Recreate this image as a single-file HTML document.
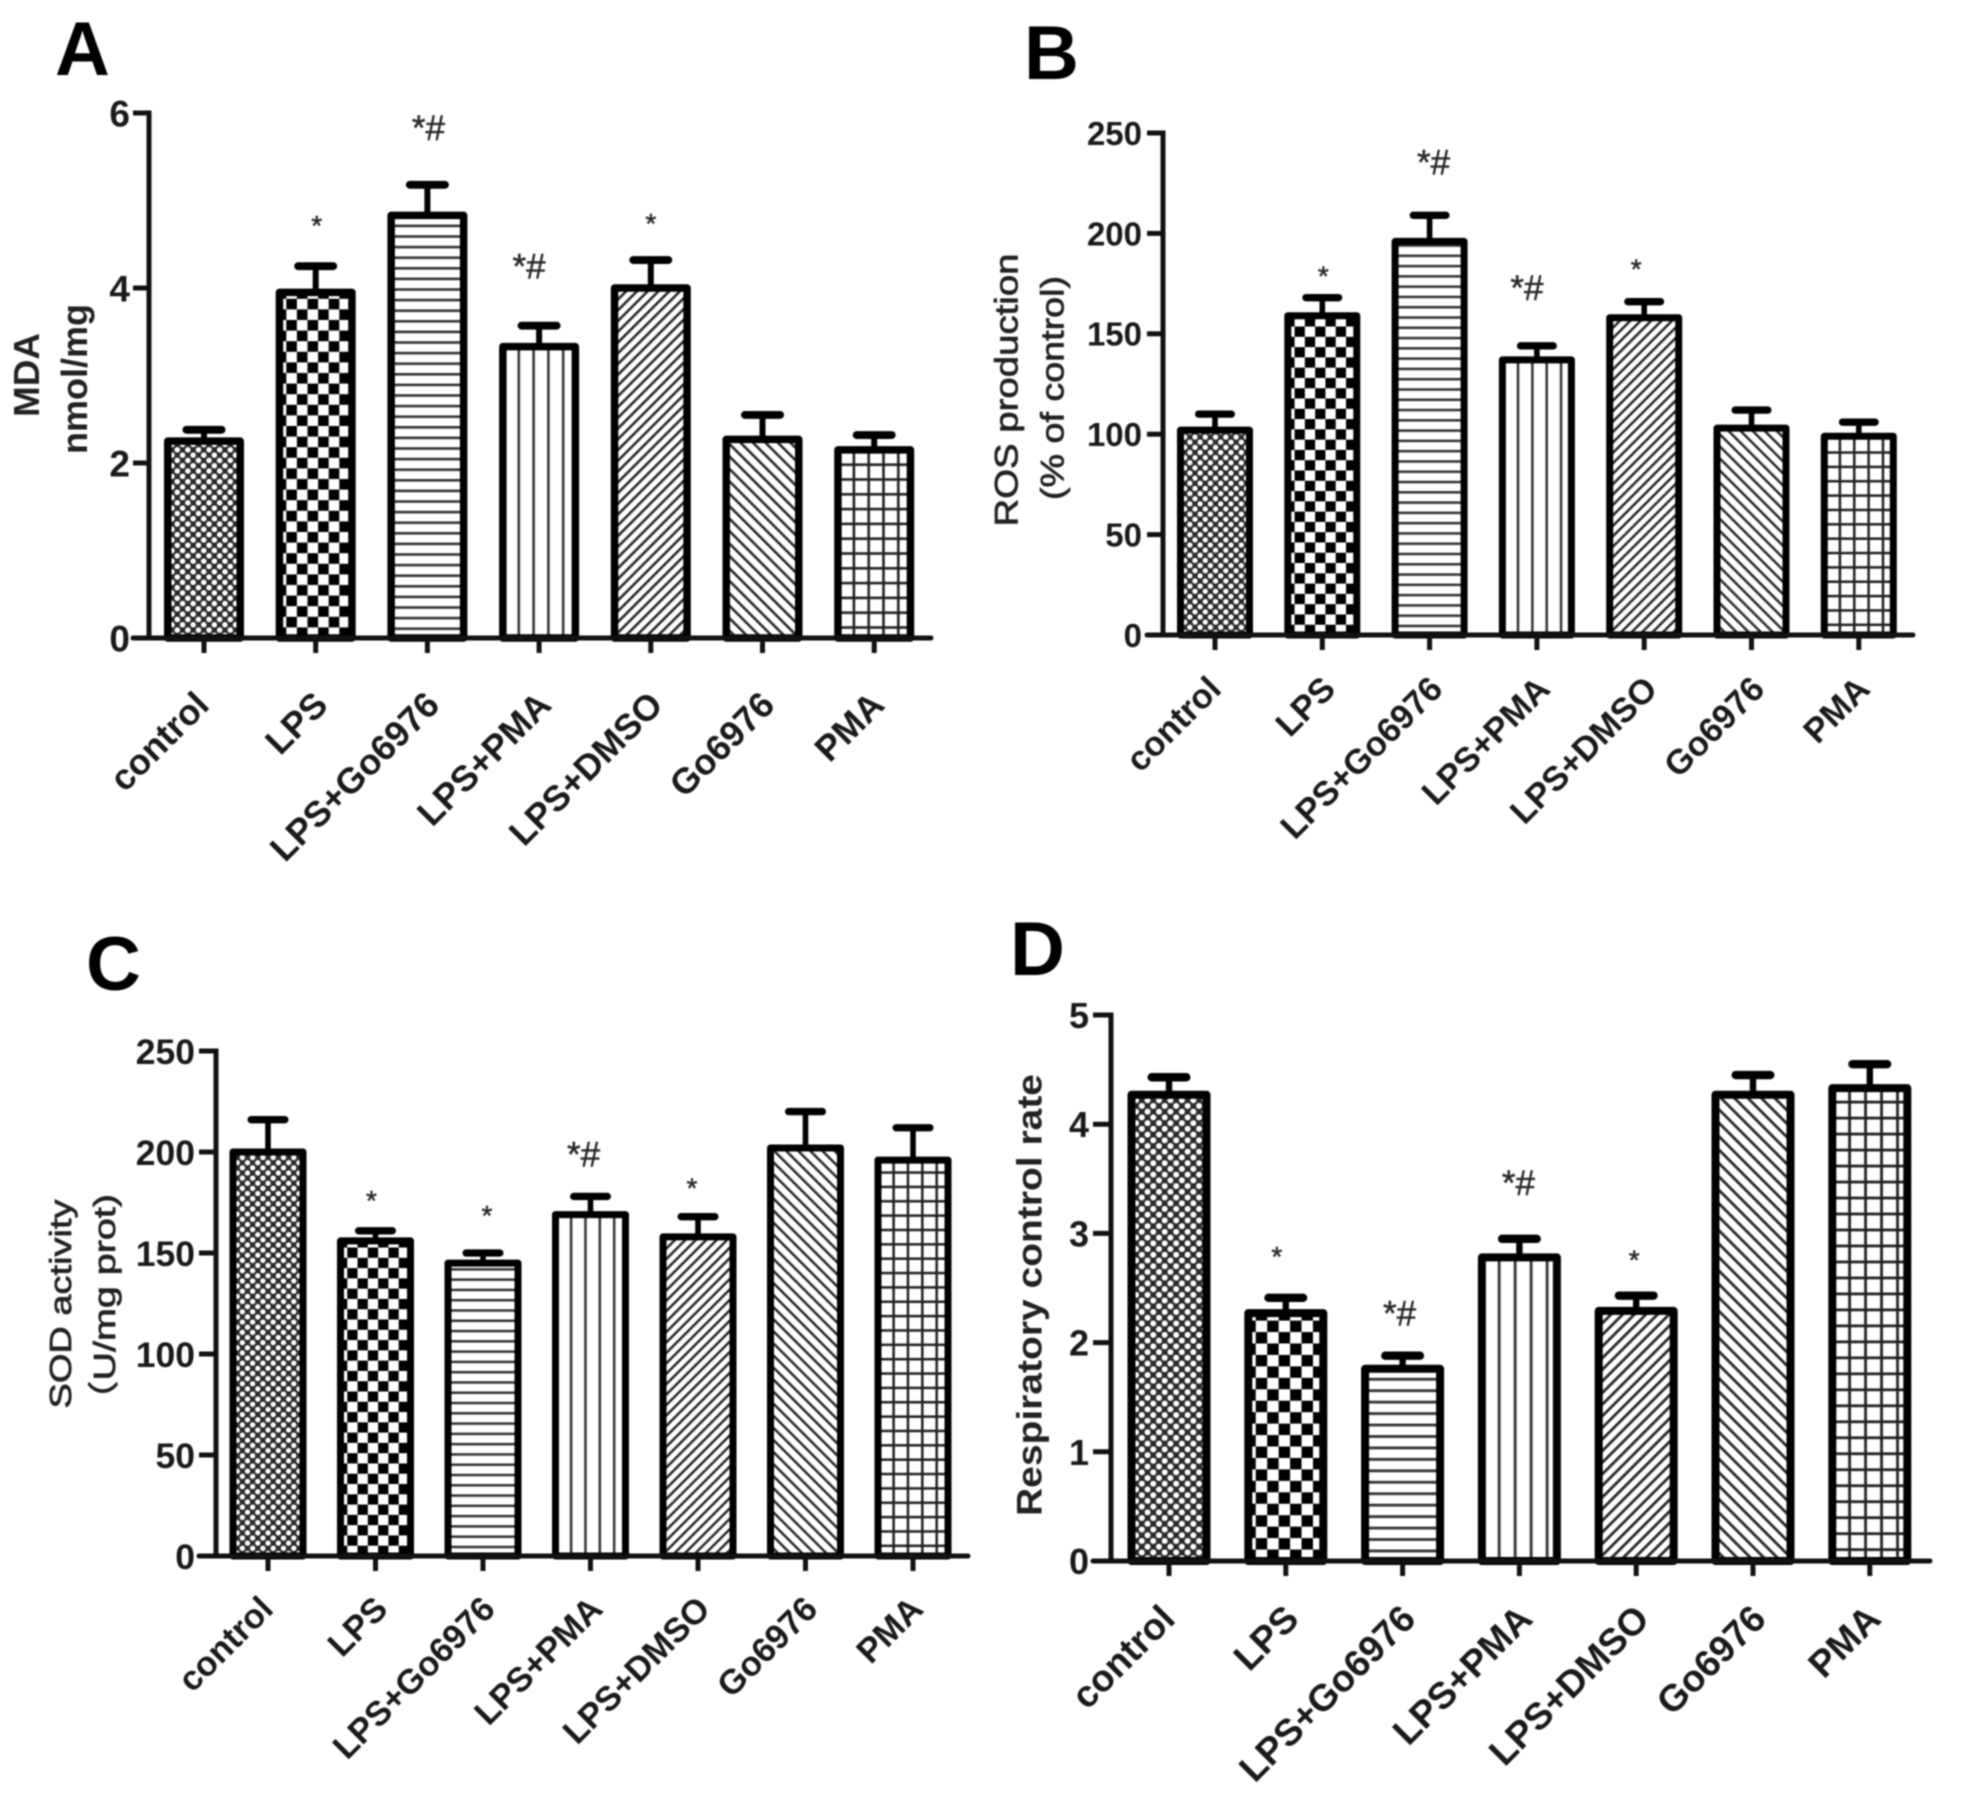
<!DOCTYPE html>
<html lang="en">
<head>
<meta charset="utf-8">
<title>Four-panel bar charts: MDA, ROS, SOD, respiratory control rate</title>
<style>
html,body{margin:0;padding:0;background:#fff;width:1967px;height:1809px;overflow:hidden}
svg{display:block;filter:blur(0.9px)}
text{font-family:"Liberation Sans","Noto Sans CJK SC",sans-serif}
</style>
</head>
<body>
<svg id="figure" xmlns="http://www.w3.org/2000/svg" width="1967" height="1809" viewBox="0 0 1967 1809">
<rect width="1967" height="1809" fill="#fff"/>
<defs id="pattern-defs"></defs>
</svg>
<script>
// ---- Data ----
const categories = ['control','LPS','LPS+Go6976','LPS+PMA','LPS+DMSO','Go6976','PMA'];

const mdaValues = [2.25,3.95,4.83,3.33,4.0,2.27,2.15];
const mdaUpper  = [2.38,4.25,5.18,3.57,4.32,2.55,2.32];
const mdaMarks  = ['','*','*#','*#','*','',''];
const mdaTicks  = [0,2,4,6];

const rosValues = [102,159,196,137,158,103,99];
const rosUpper  = [110,168,209,144,166,112,106];
const rosMarks  = ['','*','*#','*#','*','',''];
const rosTicks  = [0,50,100,150,200,250];

const sodValues = [200,156,145,169,158,202,196];
const sodUpper  = [216,161,150,178,168,220,212];
const sodMarks  = ['','*','*','*#','*','',''];
const sodTicks  = [0,50,100,150,200,250];

const rcrValues = [4.27,2.27,1.76,2.78,2.29,4.27,4.33];
const rcrUpper  = [4.43,2.41,1.88,2.95,2.43,4.45,4.55];
const rcrMarks  = ['','*','*#','*#','*','',''];
const rcrTicks  = [0,1,2,3,4,5];

const patternKinds = ['dots','check','hlines','vlines','fdiag','bdiag','grid'];

// ---- Layout of each panel ----
const labelNudge = {0:-2,1:5,2:5,3:5,4:5,5:5,6:3};
const panels = [
 {id:'a',letter:'A',lx:55,ly:75,values:mdaValues,upper:mdaUpper,marks:mdaMarks,ticks:mdaTicks,maxV:6,
  markGap:[0,47,57,59,43,0,0],markDx:[0,1,2,-9,0,0,0],axisX:149,baseY:638,topY:113,tick0:204,step:111.7,barW:80,border:7.5,capW:43,
  yLeft:133,xRight:931,tickFont:37,tickRight:130,labelFont:36,labelDx:9,labelY:707,ps:1,
  titles:[{t:'MDA',x:26,y:375,s:36,w:'bold',len:84,c:'#222'},{t:'nmol/mg',x:74,y:379,s:36,w:'bold',len:150,c:'#222'}]},
 {id:'b',letter:'B',lx:1024,ly:79,values:rosValues,upper:rosUpper,marks:rosMarks,ticks:rosTicks,maxV:250,
  markGap:[0,28,53,58,39,0,0],markDx:[0,1,5,-9,-8,0,0],axisX:1163,baseY:635,topY:133,tick0:1215,step:107.3,barW:76,border:7,capW:40,
  yLeft:1147,xRight:1913,tickFont:33,tickRight:1142,labelFont:34.5,labelDx:10,labelY:691,ps:0.97,
  titles:[{t:'ROS production',x:1006,y:390,s:32,w:'normal',len:273,c:'#222',sw:0.7},{t:'(% of control)',x:1052,y:388,s:32,w:'normal',len:224,c:'#222',sw:0.7}]},
 {id:'c',letter:'C',lx:86,ly:990,values:sodValues,upper:sodUpper,marks:sodMarks,ticks:sodTicks,maxV:250,
  markGap:[0,37,44,42,35,0,0],markDx:[0,-4,4,-6,-6,0,0],axisX:216,baseY:1556,topY:1051,tick0:268,step:107.5,barW:77,border:7,capW:41,
  yLeft:199,xRight:968,tickFont:35.5,tickRight:195,labelFont:34.5,labelDx:9,labelY:1611,ps:0.97,
  titles:[{t:'SOD activity',x:60,y:1304,s:31,w:'normal',len:209,c:'#222',sw:0.7},{t:'（U/mg prot)',x:104,y:1307,s:31,w:'normal',len:226,c:'#222',sw:0.7}]},
 {id:'d',letter:'D',lx:1010,ly:975,values:rcrValues,upper:rcrUpper,marks:rcrMarks,ticks:rcrTicks,maxV:5,
  markGap:[0,48,42,56,42,0,0],markDx:[0,-9,-2,0,-2,0,0],axisX:1111,baseY:1561,topY:1015,tick0:1169,step:116.8,barW:83,border:8,capW:43,
  yLeft:1093,xRight:1930,tickFont:36,tickRight:1089,labelFont:37.5,labelDx:10,labelY:1621,ps:1.08,
  titles:[{t:'Respiratory control rate',x:1029,y:1295,s:35,w:'bold',len:442,c:'#222'}]}
];

const NS = 'http://www.w3.org/2000/svg';
const svg = document.getElementById('figure');
const defs = document.getElementById('pattern-defs');

function make(tag, attrs, parent){
  const n = document.createElementNS(NS, tag);
  for (const k in attrs) n.setAttribute(k, attrs[k]);
  (parent || svg).appendChild(n);
  return n;
}

function addPattern(panelId, kind, s){
  const id = 'pat-' + panelId + '-' + kind;
  const p = make('pattern', {id:id, patternUnits:'userSpaceOnUse'}, defs);
  const lw = 2.6 * s;
  if (kind === 'dots') {
    const c = 10.6 * s;
    p.setAttribute('width', c); p.setAttribute('height', c);
    make('rect', {width:c, height:c, fill:'#2a2a2a'}, p);
    make('circle', {cx:c*0.25, cy:c*0.25, r:c*0.26, fill:'#fff'}, p);
    make('circle', {cx:c*0.75, cy:c*0.75, r:c*0.26, fill:'#fff'}, p);
  } else if (kind === 'check') {
    const c = 21.2 * s;
    p.setAttribute('width', c); p.setAttribute('height', c);
    make('rect', {width:c, height:c, fill:'#fff'}, p);
    make('rect', {x:0, y:c/2, width:c/2, height:c/2, fill:'#000'}, p);
    make('rect', {x:c/2, y:0, width:c/2, height:c/2, fill:'#000'}, p);
  } else if (kind === 'hlines') {
    const c = 10.6 * s;
    p.setAttribute('width', 20); p.setAttribute('height', c);
    make('rect', {width:20, height:c, fill:'#fff'}, p);
    make('rect', {x:0, y:0, width:20, height:lw, fill:'#333'}, p);
  } else if (kind === 'vlines') {
    const c = 14.8 * s;
    p.setAttribute('width', c); p.setAttribute('height', 20);
    make('rect', {width:c, height:20, fill:'#fff'}, p);
    make('rect', {x:3.6*s, y:0, width:lw, height:20, fill:'#333'}, p);
  } else if (kind === 'fdiag' || kind === 'bdiag') {
    const c = (kind === 'fdiag' ? 7.6 : 8.8) * s;
    p.setAttribute('width', c); p.setAttribute('height', c);
    p.setAttribute('patternTransform', 'rotate(' + (kind === 'fdiag' ? 45 : -45) + ')');
    make('rect', {width:c, height:c, fill:'#fff'}, p);
    make('rect', {x:0, y:0, width:lw, height:c, fill:'#2a2a2a'}, p);
  } else if (kind === 'grid') {
    const c = 14.8 * s;
    p.setAttribute('width', c); p.setAttribute('height', c);
    make('rect', {width:c, height:c, fill:'#fff'}, p);
    make('rect', {x:3.6*s, y:0, width:lw, height:c, fill:'#222'}, p);
    make('rect', {x:0, y:3*s, width:c, height:lw, fill:'#222'}, p);
  }
  return id;
}

panels.forEach(function (P) {
  const yScale = function (v) { return P.baseY - (v / P.maxV) * (P.baseY - P.topY); };
  const xScale = function (i) { return P.tick0 + i * P.step; };
  const group = make('g', {});
  
  

  const letter = make('text', {x:P.lx, y:P.ly, 'font-size':76, 'font-weight':'bold', fill:'#000'}, group);
  letter.textContent = P.letter;
  
  

  P.titles.forEach(function (T, ti) {
    const bx = T.x + T.s * 0.36;
    const title = make('text', {transform:'translate(' + bx + ',' + T.y + ') rotate(-90)', 'text-anchor':'middle',
      'font-size':T.s, 'font-weight':T.w, fill:T.c, textLength:T.len, lengthAdjust:'spacingAndGlyphs'}, group);
    if (T.sw) { title.setAttribute('stroke', T.c); title.setAttribute('stroke-width', T.sw); }
    title.textContent = T.t;
    
    
  });

  // bars
  P.values.forEach(function (v, i) {
    const cx = xScale(i);
    const yv = yScale(v);
    const yu = yScale(P.upper[i]);
    const left = cx - P.barW / 2;
    const stemW = P.border * 0.8;
    const capH = P.border * 1.05;

    const stem = make('line', {x1:cx, x2:cx, y1:yv, y2:yu, stroke:'#000', 'stroke-width':stemW}, group);
    
    

    const cap = make('line', {x1:cx - P.capW/2 + capH/2, x2:cx + P.capW/2 - capH/2, y1:yu, y2:yu, stroke:'#000',
      'stroke-width':capH, 'stroke-linecap':'round'}, group);
    
    

    const patId = addPattern(P.id, patternKinds[i], P.ps);
    const barG = make('g', {transform:'translate(' + left + ',' + P.baseY + ')'}, group);
    const h = P.baseY - yv;
    const bar = make('rect', {x:P.border/2, y:-h, width:P.barW - P.border, height:h, fill:'url(#' + patId + ')',
      stroke:'#000', 'stroke-width':P.border, 'stroke-linejoin':'round'}, barG);
    
    

    const tick = make('line', {x1:cx, x2:cx, y1:P.baseY, y2:P.baseY + 15, stroke:'#111', 'stroke-width':5}, group);
    
    

    const lab = make('text', {transform:'translate(' + (cx + P.labelDx + labelNudge[i]) + ',' + P.labelY + ') rotate(-45)', 'text-anchor':'end',
      'font-size':P.labelFont, 'font-weight':'bold', fill:'#1a1a1a'}, group);
    lab.textContent = categories[i];
    
    

    if (P.marks[i]) {
      const isPair = P.marks[i].length > 1;
      const fs = isPair ? 35 : 28;
      const markY = yu - P.markGap[i] + (isPair ? 12 : 16);
      const mark = make('text', {x:cx + P.markDx[i] - (isPair ? 1 : 0), y:markY, 'text-anchor':'middle', 'font-size':fs,
        fill:'#2a2a2a', stroke:'#2a2a2a', 'stroke-width':0.5}, group);
      mark.textContent = P.marks[i];
      
      
    }
  });

  // axes
  const yAxis = make('line', {x1:P.axisX, x2:P.axisX, y1:P.topY - 2.5, y2:P.baseY, stroke:'#111', 'stroke-width':5}, group);
  
  

  const xAxis = make('line', {x1:P.yLeft, x2:P.xRight, y1:P.baseY, y2:P.baseY, stroke:'#111', 'stroke-width':5, 'stroke-linecap':'round'}, group);
  
  

  P.ticks.forEach(function (t) {
    const y = yScale(t);
    const yt = make('line', {x1:P.yLeft, x2:P.axisX, y1:y, y2:y, stroke:'#111', 'stroke-width':5}, group);
    
    
    const txt = make('text', {x:P.tickRight, y:y + P.tickFont * 0.36, 'text-anchor':'end', 'font-size':P.tickFont, 'font-weight':'bold', fill:'#1a1a1a'}, group);
    txt.textContent = String(t);
    
    
  });
});
</script>
</body>
</html>
